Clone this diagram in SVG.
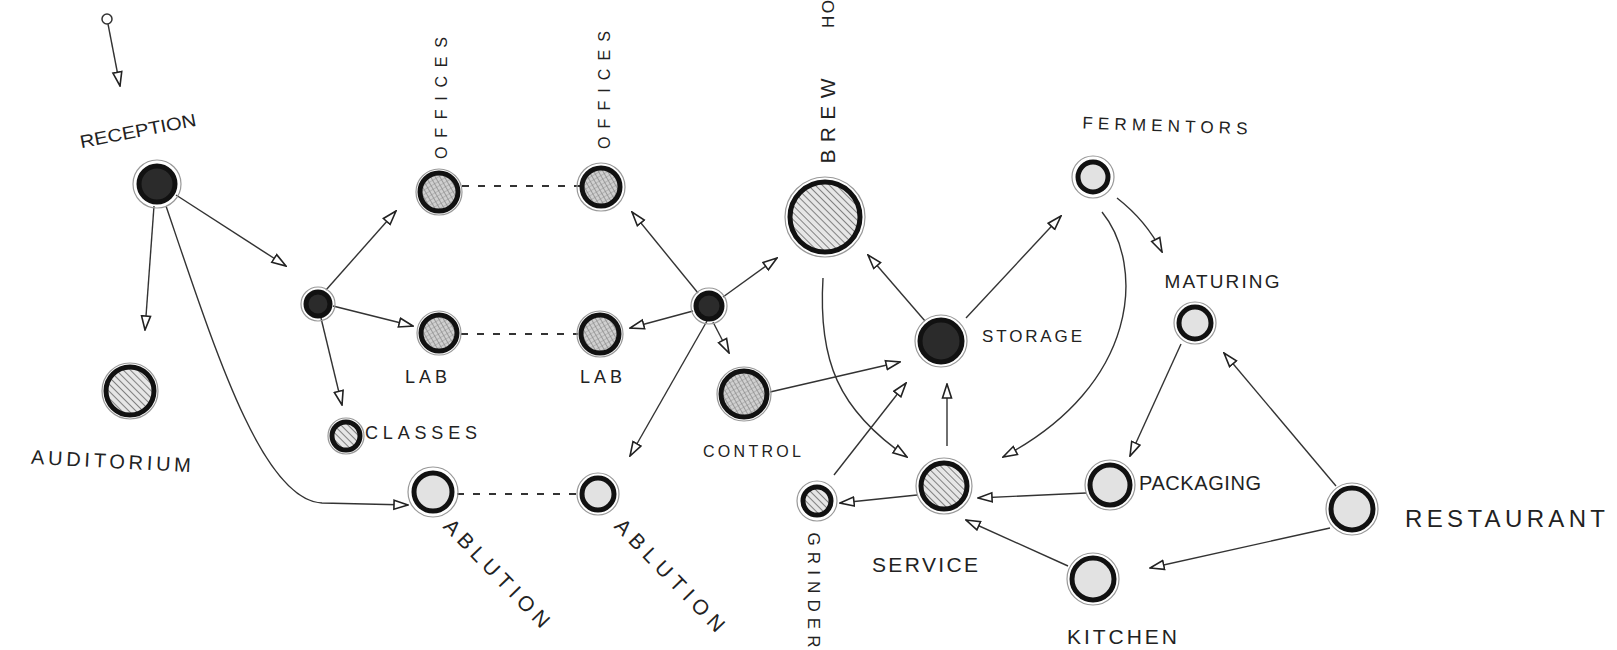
<svg xmlns="http://www.w3.org/2000/svg" width="1617" height="650" viewBox="0 0 1617 650">
<defs>
<pattern id="hatch" patternUnits="userSpaceOnUse" width="5" height="5" patternTransform="rotate(-45)"><rect width="5" height="5" fill="#e6e6e6"/><line x1="0" y1="0" x2="0" y2="5" stroke="#555" stroke-width="1.4"/></pattern>
<pattern id="cross" patternUnits="userSpaceOnUse" width="4" height="4" patternTransform="rotate(-30)"><rect width="4" height="4" fill="#d0d0d0"/><line x1="0" y1="0" x2="0" y2="4" stroke="#666" stroke-width="1"/><line x1="0" y1="0" x2="4" y2="0" stroke="#888" stroke-width="0.8"/></pattern>
<marker id="tri" viewBox="0 0 16 12" refX="15" refY="6" markerWidth="16" markerHeight="12" orient="auto" markerUnits="userSpaceOnUse"><path d="M1,1.5 L15,6 L1,10.5 Z" fill="#fff" stroke="#222" stroke-width="1.6"/></marker>
</defs>
<style>
.c{fill:none;stroke:#333;stroke-width:1.4}
.a{marker-end:url(#tri)}
.d{fill:none;stroke:#333;stroke-width:1.8;stroke-dasharray:7 9}
.halo{fill:none;stroke:#999;stroke-width:1.2}
.ring{stroke:#111;stroke-width:5}
.dark{fill:#2b2b2b}
.hat{fill:url(#hatch)}
.crs{fill:url(#cross)}
.open{fill:#e2e2e2}
text{font-family:"Liberation Sans",Arial,sans-serif;font-size:18px;fill:#222;text-anchor:middle;dominant-baseline:central}
.s16{font-size:16px}.s17{font-size:17px}.s19{font-size:19px}.s20{font-size:20px}.s21{font-size:21px}.s24{font-size:24px}
</style>
<rect width="1617" height="650" fill="#fff"/>
<g id="connectors">
<circle cx="107" cy="19" r="5" fill="#fff" stroke="#333" stroke-width="1.5"/>
<line class="c a" x1="108" y1="24" x2="120" y2="86"/>
<line class="c a" x1="154" y1="206" x2="145" y2="330"/>
<line class="c a" x1="176" y1="195" x2="286" y2="266"/>
<path class="c a" d="M166 206 C215 350 262 500 322 503 L408 505"/>
<line class="c a" x1="326" y1="290" x2="396" y2="211"/>
<line class="c a" x1="333" y1="306" x2="413" y2="326"/>
<line class="c a" x1="321" y1="318" x2="342" y2="405"/>
<line class="d" x1="462" y1="186" x2="580" y2="186"/>
<line class="d" x1="461" y1="334" x2="578" y2="334"/>
<line class="d" x1="457" y1="494" x2="578" y2="494"/>
<line class="c a" x1="698" y1="293" x2="632" y2="212"/>
<line class="c a" x1="693" y1="311" x2="630" y2="328"/>
<line class="c a" x1="723" y1="297" x2="777" y2="258"/>
<line class="c a" x1="713" y1="322" x2="729" y2="353"/>
<line class="c a" x1="707" y1="321" x2="630" y2="456"/>
<line class="c a" x1="770" y1="392" x2="900" y2="362"/>
<path class="c a" d="M823 278 C818 360 838 410 907 457"/>
<line class="c a" x1="925" y1="321" x2="868" y2="255"/>
<line class="c a" x1="966" y1="318" x2="1061" y2="216"/>
<line class="c a" x1="947" y1="446" x2="947" y2="384"/>
<line class="c a" x1="834" y1="475" x2="906" y2="383"/>
<line class="c a" x1="917" y1="495" x2="840" y2="503"/>
<path class="c a" d="M1102 212 C1145 265 1140 385 1003 457"/>
<path class="c a" d="M1117 198 C1135 212 1150 228 1162 252"/>
<line class="c a" x1="1181" y1="344" x2="1130" y2="456"/>
<line class="c a" x1="1336" y1="486" x2="1224" y2="353"/>
<line class="c a" x1="1086" y1="493" x2="978" y2="498"/>
<line class="c a" x1="1068" y1="566" x2="966" y2="520"/>
<line class="c a" x1="1330" y1="528" x2="1150" y2="568"/>
</g>
<g id="reception"><circle class="halo" cx="157" cy="184" r="24"/><circle class="ring dark" cx="157" cy="184" r="18"/><text x="138" y="131" transform="rotate(-11 138 131)" textLength="118" lengthAdjust="spacingAndGlyphs">RECEPTION</text></g>
<g id="auditorium"><circle class="halo" cx="130" cy="391" r="28"/><circle class="ring hat" cx="130" cy="391" r="24"/><text class="s20" x="111" y="461" transform="rotate(3 111 461)" textLength="160">AUDITORIUM</text></g>
<g id="hub1"><circle class="halo" cx="318" cy="304" r="17"/><circle class="ring dark" cx="318" cy="304" r="12"/></g>
<g id="offices1"><circle class="halo" cx="439" cy="192" r="23"/><circle class="ring crs" cx="439" cy="192" r="19"/><text class="s16" x="441" y="98" transform="rotate(-90 441 98)" textLength="122">OFFICES</text></g>
<g id="lab1"><circle class="halo" cx="439" cy="333" r="22"/><circle class="ring crs" cx="439" cy="333" r="18"/><text x="426" y="377" textLength="42">LAB</text></g>
<g id="classes"><circle class="halo" cx="346" cy="436" r="18"/><circle class="ring hat" cx="346" cy="436" r="14"/><text x="421" y="433" textLength="112">CLASSES</text></g>
<g id="ablution1"><circle class="halo" cx="433" cy="492" r="25"/><circle class="ring open" cx="433" cy="492" r="19"/><text class="s21" x="497" y="573" transform="rotate(46 497 573)" textLength="142">ABLUTION</text></g>
<g id="offices2"><circle class="halo" cx="601" cy="187" r="24"/><circle class="ring crs" cx="601" cy="187" r="19"/><text class="s16" x="604" y="90" transform="rotate(-90 604 90)" textLength="118">OFFICES</text></g>
<g id="lab2"><circle class="halo" cx="600" cy="334" r="23"/><circle class="ring crs" cx="600" cy="334" r="19"/><text x="601" y="377" textLength="42">LAB</text></g>
<g id="ablution2"><circle class="halo" cx="598" cy="494" r="21"/><circle class="ring open" cx="598" cy="494" r="16"/><text class="s21" x="670" y="575" transform="rotate(46 670 575)" textLength="148">ABLUTION</text></g>
<g id="hub2"><circle class="halo" cx="709" cy="306" r="18"/><circle class="ring dark" cx="709" cy="306" r="13"/></g>
<g id="control"><circle class="halo" cx="744" cy="394" r="27"/><circle class="ring crs" cx="744" cy="394" r="23"/><text class="s16" x="752" y="451" textLength="98">CONTROL</text></g>
<g id="brew"><circle class="halo" cx="825" cy="217" r="40"/><circle class="ring hat" cx="825" cy="217" r="35"/><text class="s21" x="827" y="121" transform="rotate(-90 827 121)" textLength="85">BREW</text><text class="s17" x="828" y="14" transform="rotate(-90 828 14)" textLength="28">HO</text></g>
<g id="storage"><circle class="halo" cx="941" cy="341" r="26"/><circle class="ring dark" cx="941" cy="341" r="21"/><text class="s17" x="1032" y="336" textLength="100">STORAGE</text></g>
<g id="service"><circle class="halo" cx="944" cy="486" r="28"/><circle class="ring hat" cx="944" cy="486" r="23"/><text class="s21" x="925" y="564" textLength="106">SERVICE</text></g>
<g id="grinder"><circle class="halo" cx="817" cy="501" r="20"/><circle class="ring hat" cx="817" cy="501" r="14"/><text class="s17" x="813" y="590" transform="rotate(90 813 590)" textLength="115">GRINDER</text></g>
<g id="fermentors"><circle class="halo" cx="1093" cy="177" r="21"/><circle class="ring open" cx="1093" cy="177" r="15"/><text class="s17" x="1165" y="126" transform="rotate(2 1165 126)" textLength="165">FERMENTORS</text></g>
<g id="maturing"><circle class="halo" cx="1195" cy="323" r="21"/><circle class="ring open" cx="1195" cy="323" r="16"/><text class="s19" x="1222" y="281" textLength="115">MATURING</text></g>
<g id="packaging"><circle class="halo" cx="1110" cy="485" r="25"/><circle class="ring open" cx="1110" cy="485" r="20"/><text class="s20" x="1200" y="483" textLength="122">PACKAGING</text></g>
<g id="restaurant"><circle class="halo" cx="1352" cy="509" r="26"/><circle class="ring open" cx="1352" cy="509" r="21"/><text class="s24" x="1505" y="518" textLength="200">RESTAURANT</text></g>
<g id="kitchen"><circle class="halo" cx="1093" cy="579" r="26"/><circle class="ring open" cx="1093" cy="579" r="21"/><text class="s21" x="1122" y="636" textLength="110">KITCHEN</text></g>
</svg>
